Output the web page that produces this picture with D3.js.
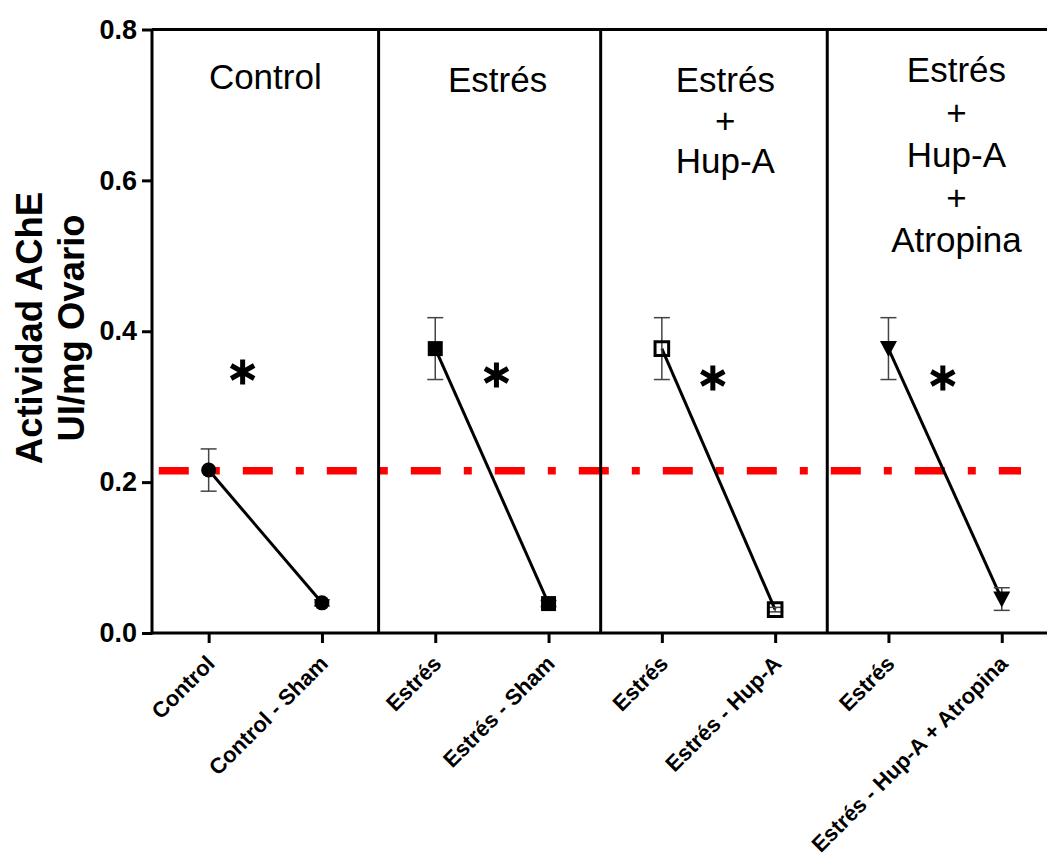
<!DOCTYPE html>
<html>
<head>
<meta charset="utf-8">
<script src="https://cdn.jsdelivr.net/npm/d3@7"></script>
<style>
    html, body { margin: 0; padding: 0; background: #fff; }
    #mainDiv { width: 1047px; height: 859px; overflow: hidden; }
    text { font-family: Arial, 'Liberation Sans', sans-serif; }
</style>
</head>
<body>
<div id="mainDiv"></div>
<script>
// categories along the x axis
var categories = [ 'Control', 'Control - Sham', 'Estrés', 'Estrés - Sham',
    'Estrés', 'Estrés - Hup-A', 'Estrés', 'Estrés - Hup-A + Atropina' ];
// mean and SEM
var means = [ 0.216, 0.040, 0.377, 0.039, 0.377, 0.031, 0.377, 0.045 ];
var sems = [ 0.028, 0.004, 0.041, 0.004, 0.041, 0.003, 0.041, 0.015 ];
// which marker each point uses, pairs are joined by a line
var markers = [ 'circle', 'circle', 'square', 'square', 'openSquare', 'openSquare', 'triangle', 'triangle' ];
var pairs = [ [ 0, 1 ], [ 2, 3 ], [ 4, 5 ], [ 6, 7 ] ];
var yTicks = [ 0.0, 0.2, 0.4, 0.6, 0.8 ];
var panelTitles = [ [ 'Control' ], [ 'Estrés' ], [ 'Estrés', '+', 'Hup-A' ], [ 'Estrés', '+', 'Hup-A', '+', 'Atropina' ] ];
var panelCenters = [ 0.5, 2.55, 4.56, 6.6 ];
var panelTitleTop = [ 89, 92, 92, 82 ];
var panelTitleStep = [ 0, 0, 40.5, 42.5 ];
var separators = [ 1.5, 3.46, 5.46 ];
// significance marks: [x index, y value]
var stars = [ [ 0.3, 0.346 ], [ 2.54, 0.342 ], [ 4.45, 0.338 ], [ 6.48, 0.338 ] ];
var refValue = 0.215;
var refExtent = [ -0.44, 7.17 ];

var AChE = AChE || {};

AChE.main = function () {
    var _width = 1047, _height = 859,
        _left = 152, _top = 29.5, _bottom = 633,
        _step = 113.3,
        _x = d3.scaleLinear().domain( [ -0.5, 7.5 ] ).range( [ _left, _left + 8 * _step ] ),
        _y = d3.scaleLinear().domain( [ 0, 0.8 ] ).range( [ _bottom, _top ] ),
        _font = "Arial, 'Liberation Sans', sans-serif",
        _svg, _plot;

    _svg = d3.select( '#mainDiv' )
        .append( 'svg' )
        .attr( 'width', _width )
        .attr( 'height', _height );

    _plot = _svg.append( 'g' ).attr( 'id', 'plot' );

    // reference line (dash - dot)
    _plot.append( 'line' )
        .attr( 'x1', _x( refExtent[ 0 ] ) )
        .attr( 'x2', _x( refExtent[ 1 ] ) )
        .attr( 'y1', _y( refValue ) )
        .attr( 'y2', _y( refValue ) )
        .attr( 'stroke', '#ff0000' )
        .attr( 'stroke-width', 7.5 )
        .attr( 'stroke-dasharray', '30,23,8,23' );

    // panel separators
    _plot.selectAll( 'line.sep' )
        .data( separators )
        .enter()
        .append( 'line' )
        .attr( 'class', 'sep' )
        .attr( 'x1', function ( d ) { return _x( d ); } )
        .attr( 'x2', function ( d ) { return _x( d ); } )
        .attr( 'y1', _y( 0.8 ) )
        .attr( 'y2', _y( 0 ) )
        .attr( 'stroke', '#000' )
        .attr( 'stroke-width', 3 );

    // top border
    _plot.append( 'line' )
        .attr( 'x1', _left )
        .attr( 'x2', _x( 7.5 ) )
        .attr( 'y1', _y( 0.8 ) )
        .attr( 'y2', _y( 0.8 ) )
        .attr( 'stroke', '#000' )
        .attr( 'stroke-width', 3 );

    // y axis
    var yAxis = d3.axisLeft( _y )
        .tickValues( yTicks )
        .tickFormat( d3.format( '.1f' ) )
        .tickSize( 10 )
        .tickPadding( 5 );
    var yg = _svg.append( 'g' )
        .attr( 'transform', 'translate(' + _left + ',0)' )
        .call( yAxis );
    yg.select( '.domain' ).attr( 'stroke-width', 3 ).attr( 'd', 'M0,' + _top + 'V' + ( _bottom + 1.5 ) );
    yg.selectAll( '.tick line' ).attr( 'stroke-width', 3 );
    yg.selectAll( '.tick text' )
        .attr( 'font-size', 27 )
        .attr( 'font-weight', 'bold' )
        .attr( 'fill', '#000' )
        .attr( 'font-family', _font );

    // x axis
    var xAxis = d3.axisBottom( _x )
        .tickValues( d3.range( categories.length ) )
        .tickFormat( function ( i ) { return categories[ i ]; } )
        .tickSize( 10 )
        .tickSizeOuter( 0 );
    var xg = _svg.append( 'g' )
        .attr( 'transform', 'translate(0,' + _bottom + ')' )
        .call( xAxis );
    xg.select( '.domain' ).attr( 'stroke-width', 3 ).attr( 'd', 'M' + ( _left - 1.5 ) + ',0H' + _x( 7.5 ) );
    xg.selectAll( '.tick line' ).attr( 'stroke-width', 3 );
    xg.selectAll( '.tick text' )
        .attr( 'font-size', 22 )
        .attr( 'font-weight', 'bold' )
        .attr( 'fill', '#000' )
        .attr( 'font-family', _font )
        .attr( 'text-anchor', 'end' )
        .attr( 'y', 0 )
        .attr( 'dy', 0 )
        .attr( 'transform', 'translate(7,32) rotate(-45)' );

    // y axis title
    var yTitle = [ 'Actividad AChE', 'UI/mg Ovario' ];
    _svg.selectAll( 'text.ytitle' )
        .data( yTitle )
        .enter()
        .append( 'text' )
        .attr( 'class', 'ytitle' )
        .attr( 'transform', function ( d, i ) { return 'translate(' + ( 42 + i * 42 ) + ',328) rotate(-90)'; } )
        .attr( 'text-anchor', 'middle' )
        .attr( 'font-size', 36.5 )
        .attr( 'font-weight', 'bold' )
        .text( function ( d ) { return d; } );

    // panel titles
    panelTitles.forEach( function ( lines, p ) {
        _plot.selectAll( 'text.title' + p )
            .data( lines )
            .enter()
            .append( 'text' )
            .attr( 'class', 'title' + p )
            .attr( 'x', _x( panelCenters[ p ] ) )
            .attr( 'y', function ( d, i ) { return panelTitleTop[ p ] + i * panelTitleStep[ p ]; } )
            .attr( 'text-anchor', 'middle' )
            .attr( 'font-size', 35 )
            .text( function ( d ) { return d; } );
    } );

    // connecting lines
    _plot.selectAll( 'line.pair' )
        .data( pairs )
        .enter()
        .append( 'line' )
        .attr( 'class', 'pair' )
        .attr( 'x1', function ( d ) { return _x( d[ 0 ] ); } )
        .attr( 'y1', function ( d ) { return _y( means[ d[ 0 ] ] ); } )
        .attr( 'x2', function ( d ) { return _x( d[ 1 ] ); } )
        .attr( 'y2', function ( d ) { return _y( means[ d[ 1 ] ] ); } )
        .attr( 'stroke', '#000' )
        .attr( 'stroke-width', 3 );

    // error bars
    var eb = _plot.selectAll( 'g.err' )
        .data( means )
        .enter()
        .append( 'g' )
        .attr( 'class', 'err' )
        .attr( 'stroke', '#444' )
        .attr( 'stroke-width', 1.5 );
    eb.append( 'line' )
        .attr( 'x1', function ( d, i ) { return _x( i ); } )
        .attr( 'x2', function ( d, i ) { return _x( i ); } )
        .attr( 'y1', function ( d, i ) { return _y( d + sems[ i ] ); } )
        .attr( 'y2', function ( d, i ) { return _y( d - sems[ i ] ); } );
    [ 1, -1 ].forEach( function ( s ) {
        eb.append( 'line' )
            .attr( 'x1', function ( d, i ) { return _x( i ) - 8; } )
            .attr( 'x2', function ( d, i ) { return _x( i ) + 8; } )
            .attr( 'y1', function ( d, i ) { return _y( d + s * sems[ i ] ); } )
            .attr( 'y2', function ( d, i ) { return _y( d + s * sems[ i ] ); } );
    } );

    // markers
    var shapes = {
        circle: 'M-7.5,0A7.5,7.5 0 1,0 7.5,0A7.5,7.5 0 1,0 -7.5,0Z',
        square: 'M-7.5,-7.5H7.5V7.5H-7.5Z',
        openSquare: 'M-6.8,-6.8H6.8V6.8H-6.8Z',
        triangle: 'M-8.5,-7.5H8.5L0,8.5Z'
    };
    _plot.selectAll( 'path.pt' )
        .data( means )
        .enter()
        .append( 'path' )
        .attr( 'class', 'pt' )
        .attr( 'transform', function ( d, i ) { return 'translate(' + _x( i ) + ',' + _y( d ) + ')'; } )
        .attr( 'd', function ( d, i ) { return shapes[ markers[ i ] ]; } )
        .attr( 'fill', function ( d, i ) { return markers[ i ] === 'openSquare' ? 'none' : '#000'; } )
        .attr( 'stroke', function ( d, i ) { return markers[ i ] === 'openSquare' ? '#000' : 'none'; } )
        .attr( 'stroke-width', 3 );

    // significance asterisks
    _plot.selectAll( 'path.star' )
        .data( stars )
        .enter()
        .append( 'path' )
        .attr( 'class', 'star' )
        .attr( 'transform', function ( d ) { return 'translate(' + _x( d[ 0 ] ) + ',' + _y( d[ 1 ] ) + ')'; } )
        .attr( 'd', 'M0,-12.5V12.5M-11.5,-6.5L11.5,6.5M-11.5,6.5L11.5,-6.5' )
        .attr( 'stroke', '#000' )
        .attr( 'stroke-width', 5 );
}();
</script>
</body>
</html>
